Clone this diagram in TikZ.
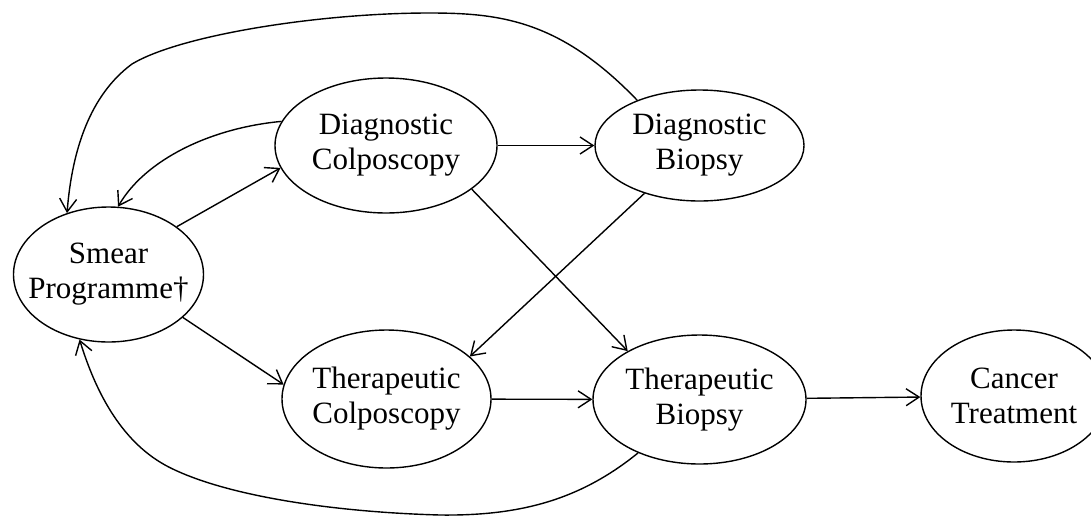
\documentclass[tikz,border=0pt]{standalone}
\usepackage{fontspec}
\setmainfont{Liberation Serif}
\usetikzlibrary{shapes.geometric,arrows.meta}
\tikzset{
 ell/.style={draw, ellipse, inner sep=0pt, line width=0.7pt},
 lbl/.style={align=center, font=\fontsize{15.5}{17.5}\selectfont, inner sep=0pt},
 conn/.style={line width=0.7pt, -{Straight Barb[length=6.5pt,width=8.5pt]}},
}
\begin{document}
\begin{tikzpicture}[x=0.5pt,y=-0.5pt]
\clip (0,0) rectangle (1091,515);
\node[ell, minimum width=95pt, minimum height=67.5pt, label={[lbl]center:{Smear\\Programme†}}] (sm) at (108.5,274.5) {};
\node[ell, minimum width=111pt, minimum height=67.5pt, label={[lbl]center:{Diagnostic\\Colposcopy}}] (dc) at (386,145.5) {};
\node[ell, minimum width=104.5pt, minimum height=55.5pt, label={[lbl]center:{Diagnostic\\Biopsy}}] (db) at (699.5,145.5) {};
\node[ell, minimum width=104.5pt, minimum height=69pt, label={[lbl]center:{Therapeutic\\Colposcopy}}] (tc) at (386.5,399) {};
\node[ell, minimum width=106.5pt, minimum height=64.5pt, label={[lbl]center:{Therapeutic\\Biopsy}}] (tb) at (699.5,399.5) {};
\node[ell, minimum width=93pt, minimum height=66pt, label={[lbl]center:{Cancer\\Treatment}}] (ct) at (1014,396) {};

\draw[conn] (sm.35) -- (dc.192);
\draw[conn] (sm.-30) -- (tc.172);
\draw[conn] (dc) -- (db);
\draw[conn] (dc.-27) -- (tb.146);
\draw[conn] (db.221) -- (tc.27);
\draw[conn] (tc) -- (tb);
\draw[conn] (tb) -- (ct);
\draw[conn] (db.144) .. controls (560,20) and (500,13) .. (429,13)
  .. controls (320,13) and (180,35) .. (132,64)
  .. controls (90,95) and (72,150) .. (sm.124);
\draw[conn] (dc.167) .. controls (210,128) and (145,160) .. (sm.82);
\draw[conn] (tb.221) .. controls (580,500) and (520,516) .. (440,515)
  .. controls (330,512) and (220,495) .. (165,465)
  .. controls (120,440) and (95,390) .. (sm.246);
\end{tikzpicture}
\end{document}
